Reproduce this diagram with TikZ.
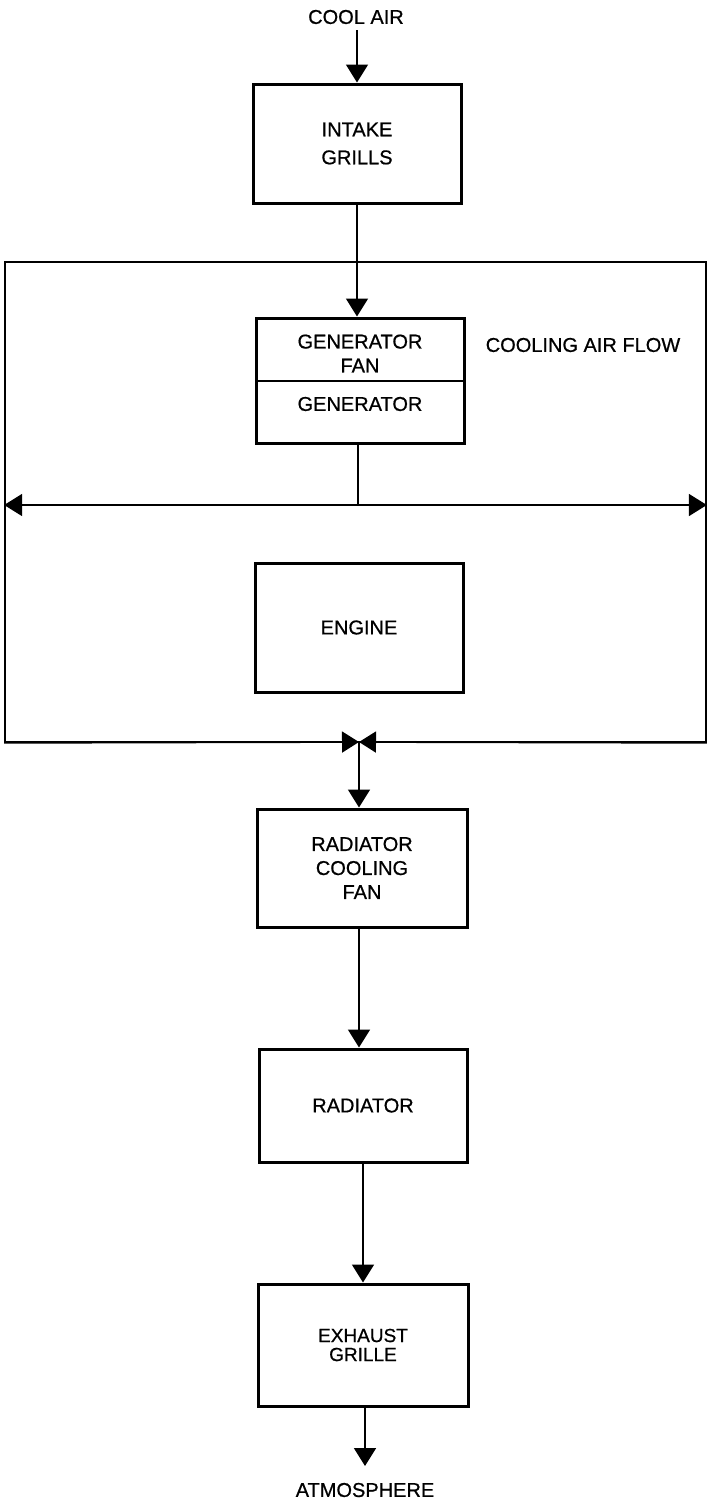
\documentclass[tikz,border=0pt]{standalone}
\usepackage{fontspec}
\setmainfont{Liberation Sans}[FakeBold=0.7]
\usetikzlibrary{arrows.meta}
\begin{document}
\begin{tikzpicture}[x=1pt,y=-1pt,
  box/.style={draw,line width=3pt,rectangle,align=center,inner sep=0pt,
    font=\fontsize{20}{25}\selectfont},
  lbl/.style={align=center,inner sep=0pt,font=\fontsize{20}{24}\selectfont},
  conn/.style={line width=1.7pt},
  tip/.style={-{Triangle[width=22pt,length=18pt]}},
  tipsm/.style={-{Triangle[width=21pt,length=17pt]}}]
\useasboundingbox (0,0) rectangle (709,1502);

% outer cooling air flow enclosure
\node[draw,line width=1.7pt,rectangle,inner sep=0pt,minimum width=701pt,minimum height=480pt] (flow) at (355.5,502) {};

\node[lbl] (cool) at (356,17) {COOL AIR};
\node[box,minimum width=208pt,minimum height=119pt,font=\fontsize{20}{28}\selectfont] (intake) at (357,143.5) {INTAKE\\GRILLS};
\node[box,minimum width=208pt,minimum height=125pt] (gen) at (360,380.5) {};
\node[lbl] (genfan) at (360,353.5) {GENERATOR\\FAN};
\node[lbl] (gentxt) at (360,404) {GENERATOR};
\coordinate (divl) at (256,381);
\coordinate (divr) at (464,381);
\node[lbl] (caf) at (583,345) {COOLING AIR FLOW};
\node[box,minimum width=208pt,minimum height=129pt] (engine) at (359,627.5) {ENGINE};
\node[box,minimum width=210pt,minimum height=118pt,font=\fontsize{20}{24}\selectfont] (rcf) at (362,868) {RADIATOR\\COOLING\\FAN};
\node[box,minimum width=208pt,minimum height=113pt] (rad) at (363,1105.5) {RADIATOR};
\node[box,minimum width=210pt,minimum height=122pt,font=\fontsize{19}{19}\selectfont] (exh) at (363,1345) {EXHAUST\\GRILLE};
\node[lbl] (atm) at (365,1490) {ATMOSPHERE};

\coordinate (split) at (358,505);
\coordinate (merge) at (359,742);
\coordinate (atmtip) at (365,1466);

% connectors
\draw[conn,tip] (cool.south -| intake.north) ++(0,6) -- (intake.north);
\draw[conn,tip] (intake.south) -- (intake.south |- gen.north);
\draw[line width=1.6pt] (divl) -- (divr);
\draw[conn] (gen.south -| split) -- (split);
\draw[conn,tip] (split) -- (split -| flow.west);
\draw[conn,tip] (split) -- (split -| flow.east);
\draw[conn,tipsm] (flow.south west) -- (merge);
\draw[conn,tipsm] (flow.south east) -- (merge);
\draw[conn,tip] (merge) -- (merge |- rcf.north);
\draw[conn,tip] (rcf.south -| merge) -- (merge |- rad.north);
\draw[conn,tip] (rad.south) -- (rad.south |- exh.north);
\draw[conn,tip] (exh.south -| atmtip) -- (atmtip);
\end{tikzpicture}
\end{document}
